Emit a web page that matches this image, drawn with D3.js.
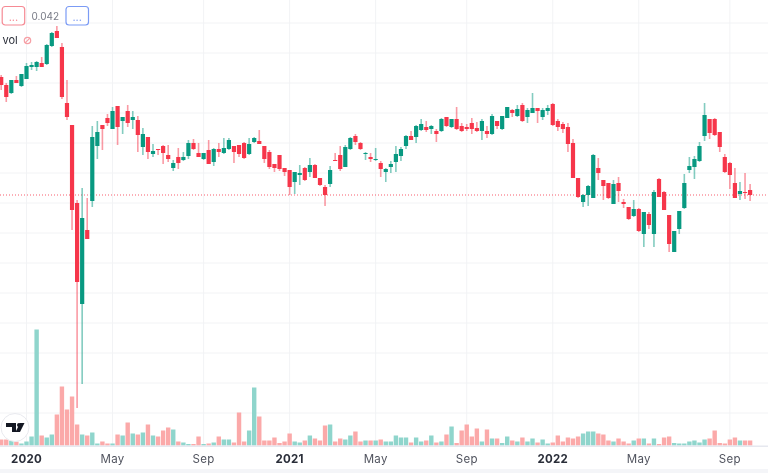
<!DOCTYPE html>
<html lang="en">
<head>
<meta charset="UTF-8">
<title>Weekly candles</title>
<style>
  html, body { margin: 0; padding: 0; background: #fff; }
  svg { display: block; font-family: "Inter", "Liberation Sans", sans-serif; filter: blur(0.45px); }
</style>
</head>
<body>
<svg id="chart"></svg>
<script src="https://cdnjs.cloudflare.com/ajax/libs/d3/7.8.5/d3.min.js"></script>
<script>
// prices in units of 0.0001, one entry per week
const open = [538,530,522,535,529,536,548,548,552,551,569,584,568,512,490,412,311,385,414,469,
  490,497,486,509,494,504,495,495,468,478,461,466,469,460,447,458,455,459,472,462,
  456,465,453,466,462,466,469,470,472,461,473,474,469,463,451,460,447,445,433,440,
  447,443,450,437,428,431,455,460,448,466,479,472,461,458,455,452,443,448,453,459,
  469,479,478,485,488,486,484,484,498,488,496,489,488,492,487,484,484,481,494,486,
  497,505,499,510,498,502,507,498,504,511,494,491,488,472,437,413,420,417,447,435,
  432,411,432,413,408,399,406,381,401,381,436,423,400,363,386,407,445,448,454,479,
  496,496,483,458,452,432,421,423,425];
const high = [540,532,535,539,541,552,553,554,558,571,583,589,572,535,490,415,427,417,489,494,
  490,501,508,509,498,510,504,499,487,478,471,466,470,470,455,467,463,475,476,472,
  462,475,467,472,477,477,469,470,473,477,478,485,469,465,451,460,447,445,443,450,
  448,457,451,437,430,449,462,469,470,478,481,473,463,462,467,454,447,454,469,468,
  480,484,490,496,494,490,486,497,498,496,508,492,491,497,493,496,489,501,494,499,
  508,506,510,512,507,522,507,507,510,512,496,493,492,476,437,421,430,461,457,435,
  432,435,438,416,408,415,407,403,403,425,437,424,400,384,404,441,458,459,473,512,
  496,497,483,461,453,447,433,442,431];
const low = [525,513,521,532,528,536,545,544,548,550,568,577,516,495,385,207,231,376,408,456,
  465,489,486,470,481,488,486,463,460,456,458,460,451,453,444,446,454,456,465,458,
  455,451,449,458,461,465,452,458,456,460,472,471,452,446,443,444,439,420,421,430,
  434,438,437,429,409,428,454,444,448,465,470,465,455,453,454,438,433,442,443,454,
  466,475,472,484,483,481,473,483,488,487,485,483,484,481,483,475,477,480,486,485,
  497,498,498,493,492,502,492,495,500,489,484,482,463,437,417,408,409,417,435,415,
  416,411,413,407,395,398,383,368,386,368,418,405,363,363,381,406,442,436,453,474,
  476,479,463,442,426,417,415,416,414];
const close = [530,518,535,532,541,549,550,553,548,570,582,577,518,498,405,333,397,376,478,483,
  486,492,504,488,498,492,498,480,481,463,464,465,462,456,452,452,458,472,466,458,
  462,451,466,463,467,475,463,461,457,471,477,471,456,448,447,446,443,428,443,442,
  435,450,437,430,420,445,454,446,468,477,473,466,462,456,456,446,446,451,461,466,
  479,475,489,491,485,489,481,496,489,496,486,484,486,486,484,494,481,499,489,499,
  508,502,506,494,505,507,504,505,507,490,488,486,471,437,418,420,429,460,442,429,
  417,431,424,411,396,406,384,403,390,423,418,405,371,384,404,432,449,456,469,500,
  482,480,468,443,440,417,424,422,420];
// weekly volume, arbitrary units
const volume = [6,6,5,4,2,4,9,116,10,8,11,31,59,36,49,21,11,10,13,2,
  4,2,2,11,10,23,12,11,13,21,10,9,15,18,16,4,3,1.5,1.5,9,
  1.5,2,3,9,6,6,3,33,4,15,58,29,5,5,8,2.5,4,12,4,3,
  5,10,7,5,20,21,4,7,6,10,14,4,5,5,5,6,4,4,10,8,
  8,3,8,4,5,10,3,4,11,19,2.5,15,21,9,17,4,16,7,7,2.5,
  9,5,4,8,4,7,3,6,2,3,10,4,8,7,9,12,14,14,12,11,
  5,4,7,4,2,5,7,7,2,7,1.5,8,9,2.5,2,2,4,5,3,6,
  7,15,2.5,2,6,8,5,5,5];
// week index -> axis label
const tickIndex = [5,22,40,57,74,92,109,126,144];
const tickLabel = ["2020","May","Sep","2021","May","Sep","2022","May","Sep"];
const yearLabels = ["2020","2021","2022"];
const gridPrices = [592,562,532,502,472,442,412,382,352,322,292,262,232,202];
const lastPrice = 420;
const lastLabel = "0.042";

const width = 768, height = 473, plotBottom = 445.5;
const upColor = "#089981", downColor = "#f6364a";

const svg = d3.select("#chart").attr("width", width).attr("height", height);

const x = d3.scaleLinear().domain([0, 148]).range([1.2, 750.1]);
const y = d3.scaleLinear().domain([142, 615]).range([473, 0]);
const yVol = d3.scaleLinear().domain([0, 116]).range([plotBottom, plotBottom - 116]);

// grid
const grid = svg.append("g").attr("stroke", "#f2f3f5").attr("stroke-width", 1);
grid.selectAll("line.h").data(gridPrices).enter().append("line")
  .attr("class", "h")
  .attr("x1", 0).attr("x2", width)
  .attr("y1", d => y(d)).attr("y2", d => y(d));
grid.selectAll("line.v").data(tickIndex).enter().append("line")
  .attr("class", "v")
  .attr("x1", d => x(d)).attr("x2", d => x(d))
  .attr("y1", 0).attr("y2", plotBottom);

const weeks = d3.range(open.length);
const isUp = i => close[i] >= open[i];

// volume
svg.append("g").selectAll("rect").data(weeks).enter().append("rect")
  .attr("x", i => x(i) - 2.2)
  .attr("width", 4.4)
  .attr("y", i => yVol(volume[i]))
  .attr("height", i => plotBottom - yVol(volume[i]))
  .attr("fill", i => isUp(i) ? "#8fd5cc" : "#fba9a9");

// last price line
svg.append("line")
  .attr("x1", 0).attr("x2", width)
  .attr("y1", y(lastPrice)).attr("y2", y(lastPrice))
  .attr("stroke", downColor).attr("stroke-opacity", 0.8)
  .attr("stroke-width", 1).attr("stroke-dasharray", "1 2");

// wicks
svg.append("g").selectAll("line").data(weeks).enter().append("line")
  .attr("x1", i => x(i)).attr("x2", i => x(i))
  .attr("y1", i => y(high[i])).attr("y2", i => y(low[i]))
  .attr("stroke-width", 1.6)
  .attr("stroke", i => isUp(i) ? upColor : downColor)
  .attr("stroke-opacity", 0.5);

// bodies
svg.append("g").selectAll("rect").data(weeks).enter().append("rect")
  .attr("x", i => x(i) - 2.1)
  .attr("width", 4.2)
  .attr("y", i => y(Math.max(open[i], close[i])))
  .attr("height", i => Math.max(1, Math.abs(y(open[i]) - y(close[i]))))
  .attr("fill", i => isUp(i) ? upColor : downColor);

// time axis
svg.append("rect").attr("x", 0).attr("y", plotBottom).attr("width", width).attr("height", 1.5).attr("fill", "#e6e8ef");
svg.append("rect").attr("x", 0).attr("y", 469).attr("width", width).attr("height", 4).attr("fill", "#f4f5f8");
svg.append("g").selectAll("text").data(tickIndex).enter().append("text")
  .attr("x", d => x(d))
  .attr("y", 463)
  .attr("text-anchor", "middle")
  .attr("font-size", 11.5)
  .attr("letter-spacing", 0.3)
  .attr("font-weight", (d, i) => yearLabels.includes(tickLabel[i]) ? 700 : 400)
  .attr("fill", (d, i) => yearLabels.includes(tickLabel[i]) ? "#2a2e39" : "#50535e")
  .text((d, i) => tickLabel[i]);

// logo
const logo = svg.append("g").attr("transform", "translate(15,427.5)");
logo.append("circle").attr("r", 14).attr("fill", "#fff").attr("stroke", "#e8e9ee").attr("stroke-width", 1);
logo.append("path").attr("fill", "#131722").attr("d", "M-9,-4.5H1V4.5H-3V-0.5H-9Z");
logo.append("circle").attr("cx", 4).attr("cy", -2.5).attr("r", 2).attr("fill", "#131722");
logo.append("path").attr("fill", "#131722").attr("d", "M5,-4.5H9.5L5,4.5H0.5Z");

// top controls
const box = (bx, color) => {
  svg.append("rect").attr("x", bx).attr("y", 6.5).attr("width", 22.5).attr("height", 18.5).attr("rx", 3)
    .attr("fill", "#fff").attr("stroke", color).attr("stroke-width", 1.2);
  svg.append("text").attr("x", bx + 11.2).attr("y", 20.5).attr("text-anchor", "middle")
    .attr("font-size", 11).attr("fill", color).text("...");
};
box(2.2, "#f68a94");
box(66, "#7b9bf5");
svg.append("text").attr("x", 31.5).attr("y", 20).attr("font-size", 10).attr("fill", "#787b86").text(lastLabel);
svg.append("text").attr("x", 2.5).attr("y", 44).attr("font-size", 11).attr("fill", "#2a2e39").text("vol");
const eye = svg.append("g").attr("transform", "translate(27.5,40.5)")
  .attr("fill", "none").attr("stroke", "#f6a0a6").attr("stroke-width", 1.2);
eye.append("circle").attr("r", 3.2);
eye.append("line").attr("x1", -2.6).attr("y1", 2.6).attr("x2", 2.6).attr("y2", -2.6);
</script>
</body>
</html>
